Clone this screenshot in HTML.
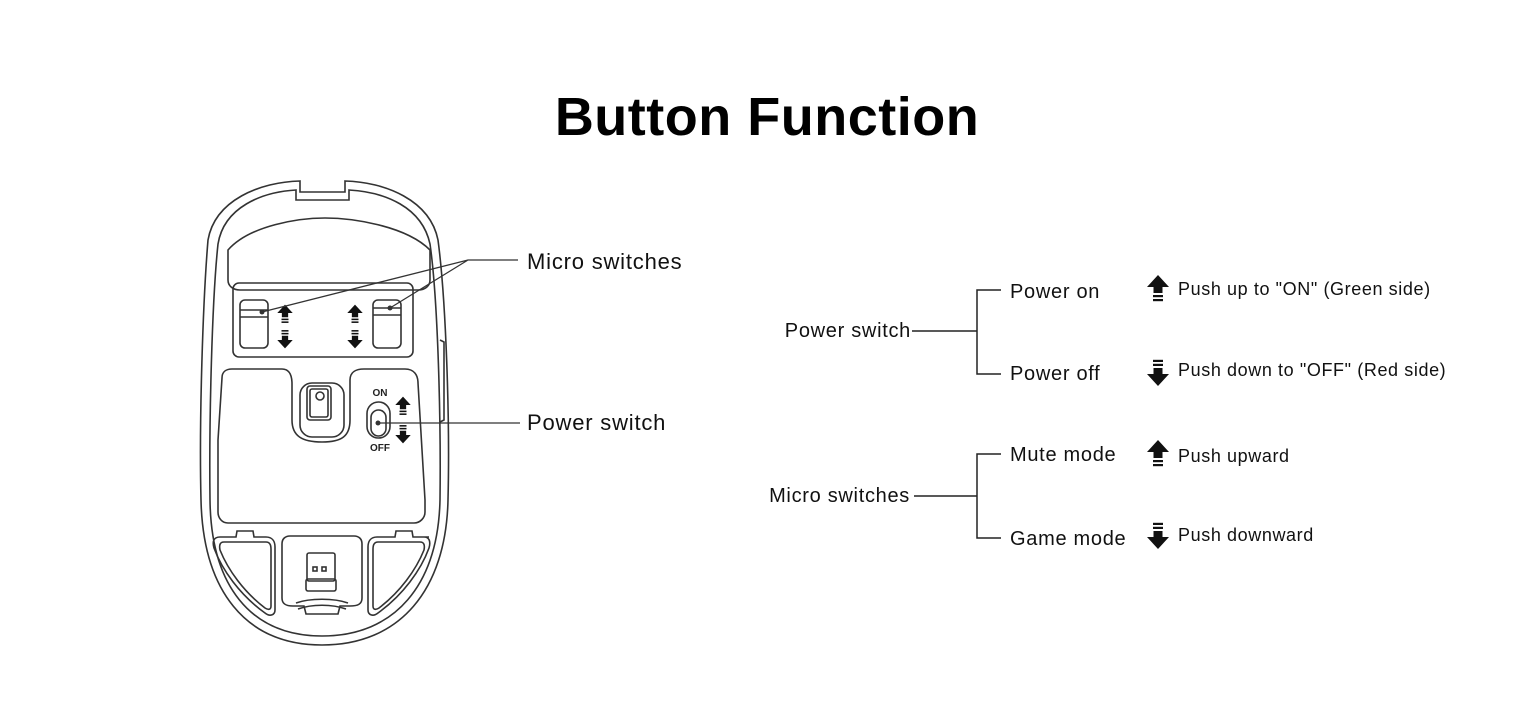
<!DOCTYPE html>
<html><head><meta charset="utf-8"><style>
html,body{margin:0;padding:0;background:#fff;}
body{width:1536px;height:722px;overflow:hidden;position:relative;font-family:"Liberation Sans",sans-serif;}
</style></head><body>
<svg width="1536" height="722" viewBox="0 0 1536 722" xmlns="http://www.w3.org/2000/svg" style="position:absolute;left:0;top:0">
<defs>
<g id="up"><polygon points="0,-12 -11,0 -4.5,0 -4.5,6 4.5,6 4.5,0 11,0" fill="#111"/><rect x="-5" y="8" width="10" height="2.2" fill="#111"/><rect x="-5" y="12" width="10" height="2.2" fill="#111"/></g>
<g id="dn"><use href="#up" transform="scale(1,-1)"/></g>
</defs>
<text x="767" y="135" text-anchor="middle" font-family="Liberation Sans, sans-serif" font-weight="bold" font-size="54" letter-spacing="0.5" fill="#000">Button Function</text>

<g fill="none" stroke="#333" stroke-width="1.6">
<path d="M300,181 L300,192 L345,192 L345,181 C385,182 430,200 438,240 C446,300 450,420 448,500 C446,590 400,645 322,645 C245,645 203,590 201,500 C199,420 203,300 208,240 C215,200 260,182 300,181 Z"/>
<path d="M296,190 L296,200 L349,200 L349,190 C385,192 422,207 430,244 C438,300 441,420 440,500 C438,585 395,636 322,636 C250,636 211,585 210,500 C209,420 212,300 218,244 C224,207 262,192 296,190 Z"/>
<path d="M228,280 L228,250 C250,225 300,218 325,218 C350,218 405,225 430,250 L430,280 C430,286 425,290 418,290 L240,290 C233,290 228,286 228,280 Z"/>
<rect x="233" y="283" width="180" height="74" rx="6"/>
<rect x="240" y="300" width="28" height="48" rx="5"/>
<path d="M240,310 L268,310 M240,317 L268,317"/>
<rect x="373" y="300" width="28" height="48" rx="5"/>
<path d="M373,308 L401,308 M373,315 L401,315"/>
<path d="M222,378 C222,372 226,369 232,369 L282,369 C290,369 292,376 292,384 L292,420 C292,436 302,442 322,442 C342,442 350,436 350,420 L350,380 C350,372 356,369 364,369 L405,369 C414,369 418,375 418,383 L425,500 L425,512 C425,518 420,523 414,523 L228,523 C222,523 218,518 218,512 L218,440 Z"/>
<rect x="300" y="383" width="44" height="54" rx="12"/>
<rect x="307" y="386" width="24" height="34" rx="3"/>
<rect x="310" y="389" width="18" height="28" rx="2"/>
<circle cx="320" cy="396" r="4"/>
<rect x="367" y="402" width="23" height="36" rx="11.5"/>
<rect x="371" y="410" width="15" height="26" rx="7.5"/>
<path d="M220,537 L236,537 L237,531 L253,531 L254,537 L266,537 C272,537 275,541 275,547 L275,610 C275,615 270,617 265,613 C240,595 222,570 214,548 C212,541 214,537 220,537 Z"/>
<path d="M224,542 L266,542 C270,542 271,545 271,549 L271,606 C271,610 268,610 265,608 C244,592 228,570 220,550 C219,545 220,542 224,542 Z"/>
<path d="M429,537 L413,537 L412,531 L396,531 L395,537 L377,537 C371,537 368,541 368,547 L368,610 C368,615 373,617 378,613 C403,595 421,570 429,548 C431,541 429,537 424,537 Z"/>
<path d="M420,542 L378,542 C374,542 373,545 373,549 L373,606 C373,610 376,610 379,608 C400,592 416,570 424,550 C425,545 424,542 420,542 Z"/>
<path d="M290,536 L354,536 C359,536 362,539 362,544 L362,598 C362,604 358,606 350,606 L340,606 L338,614 L306,614 L304,606 L293,606 C286,606 282,604 282,598 L282,544 C282,539 285,536 290,536 Z"/>
<path d="M296,603 C310,598 334,598 348,603 M298,609 C312,604 332,604 346,609"/>
<rect x="307" y="553" width="28" height="28" rx="2"/>
<rect x="306" y="579" width="30" height="12" rx="2"/>
<rect x="313" y="567" width="4" height="4"/><rect x="322" y="567" width="4" height="4"/>
<path d="M440,340 L444,342 L444,420 L440,422"/>
</g>
<use href="#up" transform="translate(285,313) scale(0.7)"/>
<use href="#dn" transform="translate(285,340) scale(0.7)"/>
<use href="#up" transform="translate(355,313) scale(0.7)"/>
<use href="#dn" transform="translate(355,340) scale(0.7)"/>
<use href="#up" transform="translate(403,405) scale(0.7)"/>
<use href="#dn" transform="translate(403,435) scale(0.7)"/>
<text x="380" y="396" text-anchor="middle" font-size="10" font-weight="bold" fill="#222">ON</text>
<text x="380" y="451" text-anchor="middle" font-size="10" font-weight="bold" fill="#222">OFF</text>

<g stroke="#333" stroke-width="1.3" fill="none">
<path d="M262,312 L468,260 L518,260 M390,308 L468,260"/>
<path d="M379,423 L520,423"/>
</g>
<circle cx="262" cy="312" r="2.5" fill="#333"/><circle cx="390" cy="308" r="2.5" fill="#333"/><circle cx="378" cy="423" r="2.5" fill="#333"/>
<g font-size="22" letter-spacing="0.8" fill="#111">
<text x="527" y="269">Micro switches</text>
<text x="527" y="430">Power switch</text>
</g>

<g stroke="#222" stroke-width="1.5" fill="none">
<path d="M912,331 L977,331 M1001,290 L977,290 L977,374 L1001,374"/>
<path d="M914,496 L977,496 M1001,454 L977,454 L977,538 L1001,538"/>
</g>
<g font-size="20" letter-spacing="0.7" fill="#111">
<text x="911" y="337" text-anchor="end">Power switch</text>
<text x="1010" y="298">Power on</text>
<text x="1010" y="380">Power off</text>
<text x="910" y="502" text-anchor="end">Micro switches</text>
<text x="1010" y="461">Mute mode</text>
<text x="1010" y="545">Game mode</text>
</g>
<use href="#up" transform="translate(1158,287)"/>
<use href="#dn" transform="translate(1158,374)"/>
<use href="#up" transform="translate(1158,452)"/>
<use href="#dn" transform="translate(1158,537)"/>
<g font-size="18" letter-spacing="0.6" fill="#111">
<text x="1178" y="295">Push up to "ON" (Green side)</text>
<text x="1178" y="376">Push down to "OFF" (Red side)</text>
<text x="1178" y="462">Push upward</text>
<text x="1178" y="541">Push downward</text>
</g>
</svg>
</body></html>
